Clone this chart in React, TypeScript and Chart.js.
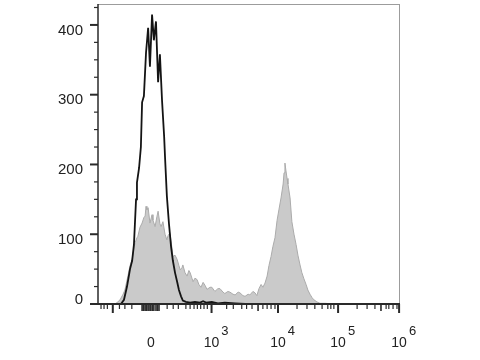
import { useEffect, useRef } from "react";
import { Chart, registerables } from "chart.js";

Chart.register(...registerables);

const FONT = '"Liberation Sans", Arial, Helvetica, sans-serif';

// x is in display channels (0..1000) of a biexponential axis; y is cell count
const CHANNEL_MIN = 0;
const CHANNEL_MAX = 1000;
const COUNT_MIN = 0;
const COUNT_MAX = 430;

// Unstained control (black outline)
const controlChannels = [0, 76, 86, 96, 106, 113, 119, 126, 129, 136, 142, 146, 152, 159, 166, 172, 179, 185, 192, 199, 205, 212, 219, 222, 228, 235, 242, 248, 255, 262, 268, 275, 281, 291, 305, 321, 338, 348, 358, 377, 397, 420, 454, 487, 1000];
const controlCounts = [0, 0, 6, 25, 50, 62, 85, 150, 174, 195, 225, 289, 298, 360, 396, 340, 415, 378, 405, 318, 358, 292, 240, 210, 155, 115, 82, 62, 45, 32, 20, 11, 5, 3, 2, 3, 2, 4, 2, 3, 1, 2, 1, 0, 0];

// Stained sample (grey filled)
const stainedChannels = [0, 56, 63, 73, 83, 89, 99, 106, 113, 119, 123, 129, 132, 139, 146, 152, 156, 159, 162, 166, 172, 179, 182, 189, 195, 199, 205, 209, 215, 222, 228, 232, 238, 245, 248, 255, 262, 268, 272, 278, 281, 288, 295, 301, 305, 311, 315, 321, 328, 334, 341, 348, 354, 361, 371, 377, 387, 397, 404, 414, 420, 430, 437, 447, 454, 464, 470, 480, 487, 497, 503, 513, 520, 526, 533, 540, 546, 553, 560, 566, 573, 579, 586, 593, 599, 606, 613, 616, 619, 622, 626, 629, 636, 642, 649, 656, 662, 669, 675, 682, 689, 695, 702, 709, 715, 725, 735, 752, 785, 1000];
const stainedCounts = [0, 0, 2, 6, 14, 20, 40, 55, 64, 80, 88, 95, 97, 110, 116, 124, 126, 140, 135, 138, 116, 128, 120, 111, 125, 133, 115, 111, 118, 100, 92, 98, 102, 80, 68, 70, 64, 55, 49, 52, 56, 45, 40, 48, 45, 37, 32, 37, 35, 28, 24, 31, 27, 21, 24, 24, 18, 22, 22, 17, 15, 18, 17, 14, 13, 17, 16, 12, 11, 14, 13, 18, 16, 12, 22, 28, 24, 30, 40, 55, 68, 82, 95, 120, 135, 152, 172, 188, 202, 192, 180, 172, 152, 118, 100, 85, 70, 56, 45, 36, 28, 20, 14, 9, 6, 3, 1, 1, 0, 0];

// Axis ticks
const yMajorTicks = [0, 100, 200, 300, 400];
const yMinorTicks = [25, 50, 75, 125, 150, 175, 225, 250, 275, 325, 350, 375, 425];
const xLabelChannels = [175, 376, 596, 795, 997];
const xLabelBases = ["0", "10", "10", "10", "10"];
const xLabelExponents = ["", "3", "4", "5", "6"];
const xLongTicks = [49, 376, 596, 795, 997];
const xMediumTicks = [146, 151, 156, 161, 166, 172, 175, 180, 185, 192, 197, 202, 530, 937];
const xShortTicks = [10, 20, 31, 71, 89, 112, 229, 249, 266, 291, 305, 318, 329, 340, 351, 362, 426, 448, 476, 492, 510, 546, 560, 573, 586, 659, 692, 718, 742, 761, 771, 781, 858, 891, 917, 954, 963, 977, 990];

const toPoints = (xs: number[], ys: number[]) => xs.map((x, i) => ({ x, y: ys[i] }));

export default function App() {
  const ref = useRef<HTMLCanvasElement>(null);

  useEffect(() => {
    if (!ref.current) return;

    const axesPlugin = {
      id: "flowAxes",
      afterDatasetsDraw(chart: any) {
        const { ctx, chartArea: a, scales } = chart;
        const xs = scales.x;
        const ys = scales.y;
        const seg = (x1: number, y1: number, x2: number, y2: number) => {
          ctx.beginPath();
          ctx.moveTo(x1, y1);
          ctx.lineTo(x2, y2);
          ctx.stroke();
        };
        ctx.save();
        // light frame top and right
        ctx.strokeStyle = "#9c9c9c";
        ctx.lineWidth = 1;
        seg(a.left, a.top + 0.5, a.right - 0.5, a.top + 0.5);
        seg(a.right - 0.5, a.top, a.right - 0.5, a.bottom);

        // y axis
        ctx.strokeStyle = "#2a2a2a";
        ctx.lineWidth = 1.5;
        seg(a.left, a.top, a.left, a.bottom);
        ctx.lineWidth = 2;
        yMajorTicks.forEach((v) => {
          const py = ys.getPixelForValue(v);
          seg(a.left - 8, py, a.left, py);
        });
        ctx.lineWidth = 1.2;
        yMinorTicks.forEach((v) => {
          const py = ys.getPixelForValue(v);
          seg(a.left - 4, py, a.left, py);
        });

        // x axis
        ctx.lineWidth = 2;
        seg(a.left - 8, a.bottom, a.right, a.bottom);
        xLongTicks.forEach((v) => {
          const px = xs.getPixelForValue(v);
          seg(px, a.bottom, px, a.bottom + 9);
        });
        ctx.lineWidth = 1.6;
        xMediumTicks.forEach((v) => {
          const px = xs.getPixelForValue(v);
          seg(px, a.bottom, px, a.bottom + 7);
        });
        ctx.lineWidth = 1.2;
        xShortTicks.forEach((v) => {
          const px = xs.getPixelForValue(v);
          seg(px, a.bottom, px, a.bottom + 5);
        });

        // y labels
        ctx.fillStyle = "#222";
        ctx.font = `15px ${FONT}`;
        ctx.textAlign = "right";
        ctx.textBaseline = "middle";
        yMajorTicks.forEach((v) => {
          const py = Math.min(ys.getPixelForValue(v) + 5.5, a.bottom - 4.5);
          ctx.fillText(String(v), a.left - 15, py);
        });

        // x labels with superscript exponents
        ctx.textBaseline = "alphabetic";
        xLabelChannels.forEach((v, i) => {
          const px = xs.getPixelForValue(v);
          ctx.font = `14px ${FONT}`;
          ctx.textAlign = "center";
          const base = xLabelBases[i];
          const w = ctx.measureText(base).width;
          ctx.fillText(base, px, a.bottom + 43);
          const exp = xLabelExponents[i];
          if (exp) {
            ctx.font = `13px ${FONT}`;
            ctx.textAlign = "left";
            ctx.fillText(exp, px + w / 2 + 2, a.bottom + 31);
          }
        });
        ctx.restore();
      },
    };

    const chart = new Chart(ref.current, {
      type: "line",
      data: {
        datasets: [
          {
            label: "Control",
            data: toPoints(controlChannels, controlCounts),
            borderColor: "#141414",
            borderWidth: 1.8,
            pointRadius: 0,
            fill: false,
            tension: 0,
            order: 0,
          },
          {
            label: "Stained",
            data: toPoints(stainedChannels, stainedCounts),
            borderColor: "#ababab",
            backgroundColor: "#cacaca",
            borderWidth: 1,
            pointRadius: 0,
            fill: "origin",
            tension: 0,
            order: 1,
          },
        ],
      },
      options: {
        animation: false,
        responsive: true,
        maintainAspectRatio: false,
        layout: { padding: { left: 98, right: 80, top: 4, bottom: 56 } },
        plugins: { legend: { display: false }, tooltip: { enabled: false } },
        scales: {
          x: { type: "linear", min: CHANNEL_MIN, max: CHANNEL_MAX, display: false },
          y: { type: "linear", min: COUNT_MIN, max: COUNT_MAX, display: false },
        },
      },
      plugins: [axesPlugin],
    } as any);

    return () => chart.destroy();
  }, []);

  return (
    <div style={{ position: "fixed", left: 0, top: 0, width: 480, height: 360, background: "#fff" }}>
      <canvas ref={ref} />
    </div>
  );
}
